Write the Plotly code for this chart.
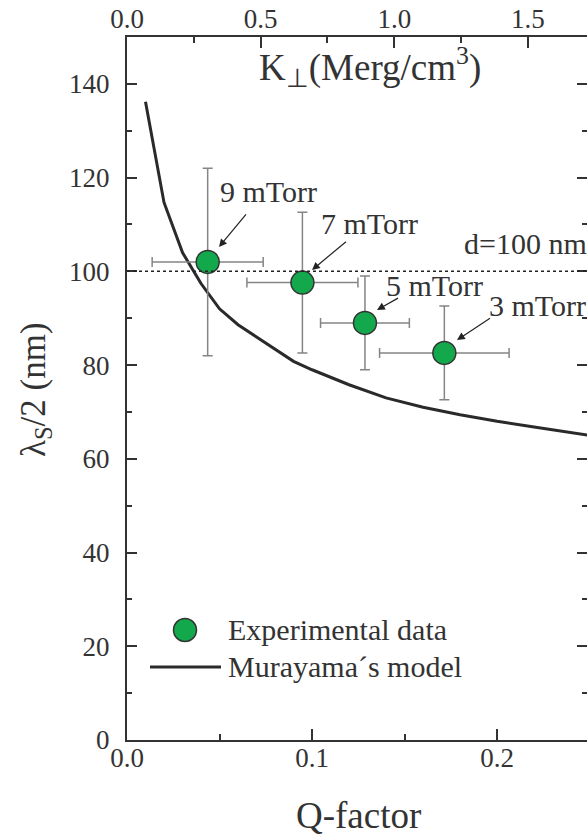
import plotly.graph_objects as go

# ---------------- data ----------------
pressure_labels = ["9 mTorr", "7 mTorr", "5 mTorr", "3 mTorr"]
q_exp = [0.0436, 0.0948, 0.1286, 0.1715]
q_err = [0.030, 0.030, 0.024, 0.035]
lam_exp = [102.0, 97.6, 89.0, 82.6]
lam_err = [20.0, 15.0, 10.0, 10.0]

q_model = [0.01, 0.02, 0.03, 0.04, 0.05, 0.06, 0.07, 0.08, 0.09, 0.10,
           0.12, 0.14, 0.16, 0.18, 0.20, 0.22, 0.24, 0.25]
lam_model = [136.2, 114.7, 104.0, 97.4, 92.0, 88.6, 86.0, 83.4, 80.8, 79.0,
             75.8, 73.0, 71.0, 69.4, 68.0, 66.8, 65.6, 65.0]

d_line = 100.0
x_ticks = [0.0, 0.1, 0.2]
y_ticks = [0, 20, 40, 60, 80, 100, 120, 140]
k_ticks = [0.0, 0.5, 1.0, 1.5]

# ---------------- layout constants ----------------
W, H = 587, 837
L, R, T, B = 127, 0, 37, 97
PW, PH = W - L - R, H - T - B
X_MAX = 0.2486
K_MAX = 1.721
Y_MAX = 150

FONT = "Liberation Serif"
TXT = "#333333"


def px_x(px):
    return (px - L) / PW


def px_y(py):
    return (H - B - py) / PH


def dx(px):
    return (px - L) / PW * X_MAX


def dy(py):
    return (H - B - py) / PH * Y_MAX


fig = go.Figure()

fig.add_trace(go.Scatter(
    x=q_model, y=lam_model, mode="lines",
    line=dict(color="#2a2a2a", width=3),
    showlegend=False, cliponaxis=True,
))

fig.add_trace(go.Scatter(
    x=q_exp, y=lam_exp, mode="markers",
    marker=dict(size=23, color="#12a84b", line=dict(color="#333333", width=1.5)),
    error_x=dict(type="data", array=q_err, color="#858585", thickness=1.5, width=5),
    error_y=dict(type="data", array=lam_err, color="#858585", thickness=1.5, width=5),
    showlegend=False, cliponaxis=False,
))

# empty trace so the mirror axes render
fig.add_trace(go.Scatter(x=[], y=[], xaxis="x2", yaxis="y2", showlegend=False))

# dotted reference line d = 100 nm
fig.add_shape(type="line", xref="paper", yref="y", x0=0, x1=1, y0=d_line, y1=d_line,
              line=dict(color="#222222", width=1.5, dash="dot"))

annotations = []
label_pos = [(218, 192), (319, 223), (384, 285), (487, 305)]
arrows = [((248, 212), (219, 247)), ((348, 240), (312, 270)),
          ((400, 297), (377, 310)), ((492, 317), (457, 340))]
for txt, (lx, ly) in zip(pressure_labels, label_pos):
    annotations.append(dict(text=txt, xref="paper", yref="paper", x=px_x(lx), y=px_y(ly),
                            xanchor="left", yanchor="middle", showarrow=False,
                            font=dict(family=FONT, size=30, color=TXT)))
for (t, h) in arrows:
    annotations.append(dict(text=" ", xref="x", yref="y", x=dx(h[0]), y=dy(h[1]),
                            axref="x", ayref="y", ax=dx(t[0]), ay=dy(t[1]),
                            showarrow=True, arrowhead=2, arrowsize=1.3, arrowwidth=1.2,
                            arrowcolor="#222222", standoff=0, startstandoff=0,
                            font=dict(family=FONT, size=2, color=TXT)))

annotations.append(dict(text="d=100 nm", xref="paper", yref="paper", x=px_x(462), y=px_y(243),
                        xanchor="left", yanchor="middle", showarrow=False,
                        font=dict(family=FONT, size=30, color=TXT)))

annotations.append(dict(text="K<sub>⊥</sub>(Merg/cm<sup>3</sup>)", xref="paper", yref="paper",
                        x=px_x(257), y=px_y(67), xanchor="left", yanchor="middle",
                        showarrow=False, font=dict(family=FONT, size=37, color=TXT)))
annotations.append(dict(text="Q-factor", xref="paper", yref="paper",
                        x=px_x(358), y=px_y(815), xanchor="center", yanchor="middle",
                        showarrow=False, font=dict(family=FONT, size=37, color=TXT)))
annotations.append(dict(text="λ<sub>S</sub>/2 (nm)", xref="paper", yref="paper",
                        x=px_x(35), y=px_y(390), xanchor="center", yanchor="middle",
                        textangle=-90, showarrow=False,
                        font=dict(family=FONT, size=35, color=TXT)))

annotations.append(dict(text="Experimental data", xref="paper", yref="paper",
                        x=px_x(226), y=px_y(629), xanchor="left", yanchor="middle",
                        showarrow=False, font=dict(family=FONT, size=30, color=TXT)))
annotations.append(dict(text="Murayama´s model", xref="paper", yref="paper",
                        x=px_x(226), y=px_y(666), xanchor="left", yanchor="middle",
                        showarrow=False, font=dict(family=FONT, size=30, color=TXT)))
fig.add_shape(type="circle", xref="paper", yref="paper",
              x0=px_x(173.5), x1=px_x(196.5), y0=px_y(641.5), y1=px_y(618.5),
              fillcolor="#12a84b", line=dict(color="#333333", width=1.5))
fig.add_shape(type="line", xref="paper", yref="paper",
              x0=px_x(150), x1=px_x(221), y0=px_y(667), y1=px_y(667),
              line=dict(color="#2a2a2a", width=3))

axis_common = dict(showgrid=False, zeroline=False, ticks="inside", tickcolor=TXT,
                   tickwidth=1.5, automargin=False,
                   tickfont=dict(family=FONT, size=27, color=TXT))

fig.update_layout(
    width=W, height=H,
    margin=dict(l=L, r=R, t=T, b=B, pad=0),
    paper_bgcolor="white", plot_bgcolor="white",
    font=dict(family=FONT, color=TXT),
    showlegend=False,
    annotations=annotations,
    xaxis=dict(range=[0, X_MAX], tickvals=x_ticks, tickformat=".1f", ticklen=11,
               minor=dict(dtick=0.05, ticks="inside", ticklen=6, tickcolor=TXT, tickwidth=1.5),
               showline=True, linecolor=TXT, linewidth=2, mirror=False,
               ticklabelstandoff=-7, **axis_common),
    xaxis2=dict(range=[0, K_MAX], tickvals=k_ticks, tickformat=".1f", ticklen=11,
                overlaying="x", side="top", anchor="y",
                minor=dict(dtick=0.25, ticks="inside", ticklen=6, tickcolor=TXT, tickwidth=1.5),
                showline=True, linecolor=TXT, linewidth=2,
                ticklabelstandoff=-4, **axis_common),
    yaxis=dict(range=[0, Y_MAX], tickvals=y_ticks, ticklen=10,
               minor=dict(dtick=10, ticks="inside", ticklen=5, tickcolor=TXT, tickwidth=1.5),
               showline=True, linecolor=TXT, linewidth=2, mirror=False,
               ticklabelstandoff=10, **axis_common),
    yaxis2=dict(range=[0, Y_MAX], tickvals=y_ticks, ticklen=10, overlaying="y", side="right",
                anchor="x", showticklabels=False, showline=False,
                minor=dict(dtick=10, ticks="inside", ticklen=5, tickcolor=TXT, tickwidth=1.5),
                **axis_common),
)

fig.write_html(
    "out.html",
    config={"displayModeBar": False},
    post_script="document.body.style.margin='0';document.body.style.overflow='hidden';",
)
